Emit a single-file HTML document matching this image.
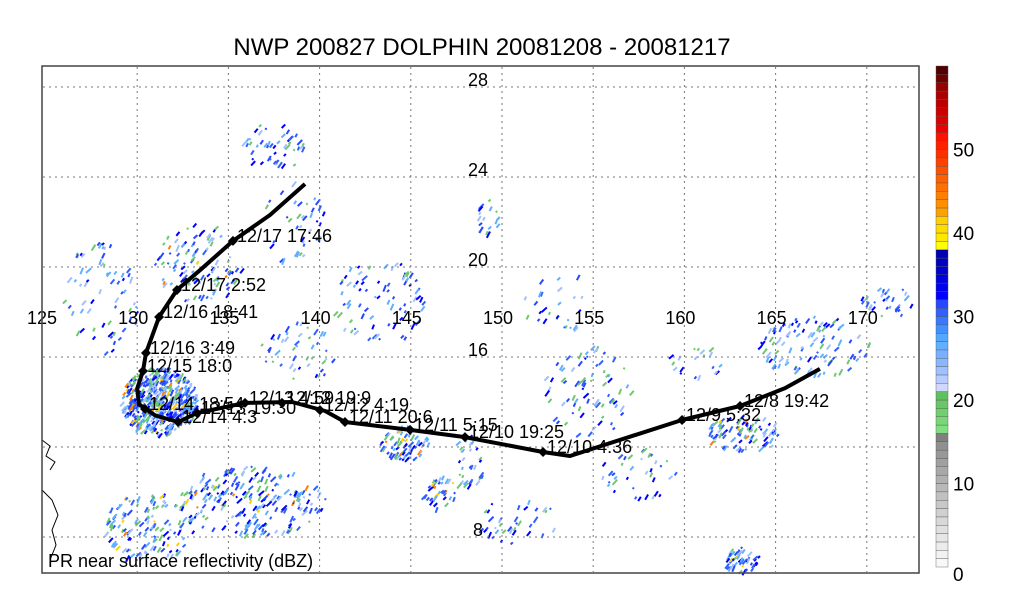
<!DOCTYPE html>
<html><head><meta charset="utf-8">
<style>
body{margin:0;background:#fff;width:1024px;height:590px;overflow:hidden;font-family:"Liberation Sans",sans-serif}
svg{display:block}
</style></head>
<body>
<svg id="chart" width="1024" height="590" viewBox="0 0 1024 590" xmlns="http://www.w3.org/2000/svg">
<text x="482" y="55" font-size="24" text-anchor="middle" fill="#000">NWP 200827 DOLPHIN 20081208 - 20081217</text>
<g id="radar"></g>
<g id="grid"></g>
<path d="M42,440 L50,446 L46,456 L55,462 L50,470 M42,490 L52,500 L58,515 L52,530 L56,545 L50,560" fill="none" stroke="#000" stroke-width="1"/>
<g id="track"></g>
<rect x="42" y="66" width="877" height="507" fill="none" stroke="#444" stroke-width="1.5"/>
<text x="48" y="567" font-size="18" fill="#000">PR near surface reflectivity (dBZ)</text>
<g id="cbar"></g>
</svg>
<script>
const NS="http://www.w3.org/2000/svg";
const lonTicks=[125,130,135,140,145,150,155,160,165,170];
const latTicks=[28,24,20,16,12,8];
const latLabels=[28,24,20,16,8];
const trackLon=[167.43,165.52,163.05,159.87,153.73,152.25,147.97,144.96,141.39,140.3,138.5,135.91,133.28,132.24,131.0,130.1,130.0,130.32,130.48,131.2,132.18,133.5,135.25,137.28,139.2];
const trackLat=[15.47,14.62,13.82,13.2,11.6,11.78,12.44,12.76,13.11,13.6,14.0,13.96,13.51,13.11,13.4,13.9,14.6,15.38,16.18,17.78,18.98,19.9,21.16,22.31,23.69];
const fixLon=[163.05,159.87,152.25,147.97,144.96,141.39,140.02,137.94,135.91,133.28,132.24,130.43,130.32,130.48,131.2,132.18,135.25];
const fixLat=[13.82,13.2,11.78,12.44,12.76,13.11,13.64,13.96,13.96,13.51,13.11,13.69,15.38,16.18,17.78,18.98,21.16];
const fixLabels=["12/8 19:42","12/9 5:32","12/10 4:36","12/10 19:25","12/11 5:15","12/11 20:6","12/12 4:19","12/12 19:9","12/13 4:59","12/13 19:30","12/14 4:3","12/14 18:54","12/15 18:0","12/16 3:49","12/16 18:41","12/17 2:52","12/17 17:46"];
const cbarTicks=[0,10,20,30,40,50];
const cbarColors=["#f8f8f8","#f2f2f2","#ececec","#e6e6e6","#e0e0e0","#d8d8d8","#d0d0d0","#c8c8c8","#c0c0c0","#b8b8b8","#b0b0b0","#a8a8a8","#a0a0a0","#989898","#909090","#808080",
"#80e080","#78d878","#70d070","#68c868","#60c060","#d0d8ff","#b8ccff","#a0c0ff","#88b8ff","#78b0ff","#60b0ff","#50a8ff","#4090ff","#3878ff","#3060ff","#2848ff","#0000ff","#0000f0","#0000e0","#0000d0","#0000c0","#0000b0",
"#ffff00","#ffe800","#ffdc00","#ffd000","#ffa000","#ff9000","#ff8000","#ff7000","#ff6000","#ff5000","#ff4000","#ff3000","#ff2000","#ff1000","#ee0000","#dd0000","#cc0000","#bb0000","#aa0000","#990000","#700000","#500000"];
const X=lon=>46+(lon-125)*18.24;
const Y=lat=>267-(lat-20)*22.5;
function mk(tag,attrs,parent){const e=document.createElementNS(NS,tag);for(const k in attrs)e.setAttribute(k,attrs[k]);parent.appendChild(e);return e;}

// radar texture: sparse speckle streaks in seeded clusters
let seed=11;function rnd(){seed=(seed*16807)%2147483647;return seed/2147483647;}
const clusters=[[160,400,38,34,2.2,1],[250,500,75,35,0.45,1],[405,442,25,18,0.9,1],[440,492,16,18,0.7,1],[470,460,14,30,0.45,0],[745,432,38,18,0.7,1],[815,345,55,30,0.35,0],[885,300,28,18,0.35,0],[275,145,30,25,0.35,0],[200,262,45,40,0.3,1],[150,525,45,35,0.45,1],[742,558,18,12,1.2,1],[590,390,45,45,0.2,0],[490,215,12,22,0.4,0],[380,300,45,45,0.2,0],[640,470,40,28,0.18,0],[100,300,40,60,0.15,0],[300,350,40,30,0.2,0],[520,520,40,25,0.2,0],[700,360,30,18,0.2,0],[290,220,35,40,0.15,0],[560,300,40,30,0.12,0]];
const radar=document.getElementById('radar');
const pal=["#6ec86e","#a0c0ff","#60b0ff","#3060ff","#0000ff","#2848ff"];
clusters.forEach(c=>{
  const n=Math.round(c[2]*c[3]*c[4]*0.18);
  for(let i=0;i<n;i++){
    const a=rnd()*6.283,r=Math.sqrt(rnd());
    const x=c[0]+Math.cos(a)*r*c[2],y=c[1]+Math.sin(a)*r*c[3];
    if(x<43||x>915||y<67||y>572)continue;
    let col=pal[Math.floor(rnd()*pal.length)];
    if(c[5]&&rnd()<0.07)col=rnd()<0.5?"#ffd000":"#ff8000";
    const len=2+Math.round(rnd()*5);
    const d=mk('rect',{x:x.toFixed(1),y:y.toFixed(1),width:2,height:len,fill:col,transform:`rotate(${(20+rnd()*30).toFixed(0)} ${x.toFixed(1)} ${y.toFixed(1)})`},radar);
    
    
  }
});

// grid
const grid=document.getElementById('grid');
lonTicks.forEach(l=>{
  if(l>125){const g=mk('line',{x1:X(l),x2:X(l),y1:67,y2:572,stroke:"#777","stroke-width":1,"stroke-dasharray":"2,4"},grid);
  }
  const t=mk('text',{x:X(l)-4,y:324,"font-size":18,"text-anchor":"middle",fill:"#000"},grid);
  
  t.textContent=l;
});
latTicks.forEach(l=>{
  const g=mk('line',{x1:43,x2:918,y1:Y(l),y2:Y(l),stroke:"#777","stroke-width":1,"stroke-dasharray":"2,4"},grid);
  
});
latLabels.forEach(l=>{
  const t=mk('text',{x:478,y:Y(l)-1,"font-size":18,"text-anchor":"middle",fill:"#000"},grid);
  
  t.textContent=l;
});

// track
const track=document.getElementById('track');
const pl=mk('polyline',{points:trackLon.map((l,i)=>X(l).toFixed(1)+","+Y(trackLat[i]).toFixed(1)).join(" "),fill:"none",stroke:"#000","stroke-width":4,"stroke-linejoin":"round"},track);

fixLon.forEach((l,i)=>{
  const x=X(l),y=Y(fixLat[i]);
  const d=mk('path',{d:`M${x},${y-5} L${x+5},${y} L${x},${y+5} L${x-5},${y} Z`,fill:"#000"},track);
  
  const t=mk('text',{x:x+4,y:y+1,"font-size":18,fill:"#000"},track);
  
  t.textContent=fixLabels[i];
});

// colorbar
const cb=document.getElementById('cbar');
const cbTop=66,cbBot=567,cbH=(cbBot-cbTop)/60;
const CY=v=>cbBot-v*cbH;
cbarColors.forEach((c,i)=>{
  const r=mk('rect',{x:936,y:CY(i+1).toFixed(2),width:12,height:cbH.toFixed(2),fill:c,stroke:"#555","stroke-width":0.4},cb);
  
});
cbarTicks.forEach(v=>{
  const t=mk('text',{x:953,y:(v===0?CY(v)+14:CY(v)+7),"font-size":19,fill:"#000"},cb);
  
  t.textContent=v;
});
</script>
</body></html>
